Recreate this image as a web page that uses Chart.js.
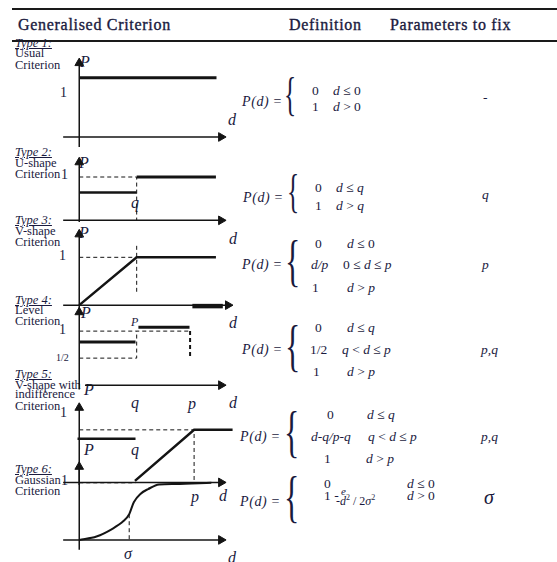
<!DOCTYPE html>
<html lang="en">
<head>
<meta charset="UTF-8">
<title>Generalised Criteria</title>
<script src="https://cdn.jsdelivr.net/npm/chart.js"></script>
<style>
  body { margin: 0; background: #fff; }
  #page { position: relative; width: 557px; height: 562px; overflow: hidden;
          font-family: 'Liberation Serif', 'DejaVu Serif', serif; color: #1a1a3e; }
  .rule { position: absolute; left: 12px; right: 0; height: 2px; background: #1a1a1a; }
  .t { position: absolute; white-space: nowrap; line-height: 1; }
  .hd { font-size: 16px; letter-spacing: 0.7px; -webkit-text-stroke: 0.35px #1a1a3e; }
  .lab { font-size: 12.5px; }
  .ty { font-style: italic; text-decoration: underline; }
  .gv { font-size: 16px; font-style: italic; }
  .num { font-size: 14px; }
  .f { font-size: 13.5px; }
  .pd { font-size: 14px; letter-spacing: 0.6px; }
  .brace { font-size: 46px; transform: scaleX(0.55); transform-origin: left top; font-weight: 100; }
  canvas { position: absolute; }
</style>
</head>
<body>
<div id="page">
  <div class="rule" style="top:8px"></div>
  <div class="rule" style="top:40px"></div>
  <div class="t hd" style="left:18px;top:17px">Generalised Criterion</div>
  <div class="t hd" style="left:289px;top:17px">Definition</div>
  <div class="t hd" style="left:390px;top:17px">Parameters to fix</div>

  <!-- left column names -->
  <div class="t lab ty" style="left:15px;top:37px">Type 1:</div>
  <div class="t lab" style="left:15px;top:47px">Usual</div>
  <div class="t lab" style="left:15px;top:59px">Criterion</div>

  <div class="t lab ty" style="left:15px;top:146px">Type 2:</div>
  <div class="t lab" style="left:15px;top:157px">U-shape</div>
  <div class="t lab" style="left:15px;top:168px">Criterion</div>

  <div class="t lab ty" style="left:15px;top:214px">Type 3:</div>
  <div class="t lab" style="left:15px;top:225px">V-shape</div>
  <div class="t lab" style="left:15px;top:236px">Criterion</div>

  <div class="t lab ty" style="left:15px;top:294px">Type 4:</div>
  <div class="t lab" style="left:15px;top:304px">Level</div>
  <div class="t lab" style="left:15px;top:315px">Criterion</div>

  <div class="t lab ty" style="left:15px;top:368px">Type 5:</div>
  <div class="t lab" style="left:15px;top:379px">V-shape with</div>
  <div class="t lab" style="left:15px;top:388px">indifference</div>
  <div class="t lab" style="left:15px;top:400px">Criterion</div>

  <div class="t lab ty" style="left:15px;top:463px">Type 6:</div>
  <div class="t lab" style="left:15px;top:474px">Gaussian</div>
  <div class="t lab" style="left:15px;top:485px">Criterion</div>

  <!-- graph labels -->
  <div class="t gv" style="left:80px;top:54px">P</div>
  <div class="t num" style="left:60px;top:86px">1</div>
  <div class="t gv" style="left:228px;top:112px">d</div>

  <div class="t gv" style="left:79px;top:155px">P</div>
  <div class="t num" style="left:61px;top:168px">1</div>
  <div class="t gv" style="left:131px;top:195px">q</div>
  <div class="t gv" style="left:229px;top:231px">d</div>

  <div class="t gv" style="left:79px;top:225px">P</div>
  <div class="t num" style="left:59px;top:249px">1</div>
  <div class="t gv" style="left:229px;top:315px">d</div>

  <div class="t gv" style="left:81px;top:305px">P</div>
  <div class="t num" style="left:59px;top:323px">1</div>
  <div class="t" style="left:56px;top:353px;font-size:10px">1/2</div>
  <div class="t gv" style="left:131px;top:316px;font-size:12px">P</div>
  <div class="t gv" style="left:131px;top:395px">q</div>
  <div class="t gv" style="left:188px;top:396px">p</div>
  <div class="t gv" style="left:229px;top:395px">d</div>

  <div class="t gv" style="left:84px;top:382px">P</div>
  <div class="t num" style="left:60px;top:406px">1</div>
  <div class="t gv" style="left:84px;top:442px">P</div>
  <div class="t gv" style="left:131px;top:442px">q</div>
  <div class="t gv" style="left:191px;top:489px">p</div>
  <div class="t gv" style="left:219px;top:488px">d</div>

  <div class="t num" style="left:61px;top:474px">1</div>
  <div class="t gv" style="left:124px;top:546px">&sigma;</div>
  <div class="t gv" style="left:228px;top:550px">d</div>

  <!-- definitions -->
  <div class="t pd" style="left:242px;top:95px"><i>P(d)</i> =</div>
  <div class="t brace" style="left:284px;top:72px">{</div>
  <div class="t f" style="left:312px;top:84px">0</div>
  <div class="t f" style="left:333px;top:84px"><i>d</i> &le; 0</div>
  <div class="t f" style="left:312px;top:100px">1</div>
  <div class="t f" style="left:333px;top:100px"><i>d</i> &gt; 0</div>
  <div class="t f" style="left:483px;top:91px">-</div>

  <div class="t pd" style="left:243px;top:191px"><i>P(d)</i> =</div>
  <div class="t brace" style="left:287px;top:169px">{</div>
  <div class="t f" style="left:315px;top:181px">0</div>
  <div class="t f" style="left:336px;top:181px"><i>d</i> &le; <i>q</i></div>
  <div class="t f" style="left:315px;top:199px">1</div>
  <div class="t f" style="left:336px;top:199px"><i>d</i> &gt; <i>q</i></div>
  <div class="t f" style="left:482px;top:188px"><i>q</i></div>

  <div class="t pd" style="left:242px;top:258px"><i>P(d)</i> =</div>
  <div class="t brace" style="left:285px;top:232px;font-size:58px">{</div>
  <div class="t f" style="left:315px;top:237px">0</div>
  <div class="t f" style="left:347px;top:237px"><i>d</i> &le; 0</div>
  <div class="t f" style="left:311px;top:258px"><i>d/p</i></div>
  <div class="t f" style="left:343px;top:258px">0 &le; <i>d</i> &le; <i>p</i></div>
  <div class="t f" style="left:312px;top:281px">1</div>
  <div class="t f" style="left:347px;top:281px"><i>d</i> &gt; <i>p</i></div>
  <div class="t f" style="left:482px;top:258px"><i>p</i></div>

  <div class="t pd" style="left:242px;top:343px"><i>P(d)</i> =</div>
  <div class="t brace" style="left:285px;top:317px;font-size:58px">{</div>
  <div class="t f" style="left:315px;top:321px">0</div>
  <div class="t f" style="left:347px;top:321px"><i>d</i> &le; <i>q</i></div>
  <div class="t f" style="left:310px;top:343px">1/2</div>
  <div class="t f" style="left:342px;top:343px"><i>q</i> &lt; <i>d</i> &le; <i>p</i></div>
  <div class="t f" style="left:313px;top:365px">1</div>
  <div class="t f" style="left:347px;top:365px"><i>d</i> &gt; <i>p</i></div>
  <div class="t f" style="left:481px;top:343px"><i>p,q</i></div>

  <div class="t pd" style="left:240px;top:430px"><i>P(d)</i> =</div>
  <div class="t brace" style="left:284px;top:403px;font-size:58px">{</div>
  <div class="t f" style="left:327px;top:408px">0</div>
  <div class="t f" style="left:367px;top:408px"><i>d</i> &le; <i>q</i></div>
  <div class="t f" style="left:311px;top:430px"><i>d-q/p-q</i></div>
  <div class="t f" style="left:368px;top:430px"><i>q</i> &lt; <i>d</i> &le; <i>p</i></div>
  <div class="t f" style="left:324px;top:452px">1</div>
  <div class="t f" style="left:366px;top:452px"><i>d</i> &gt; <i>p</i></div>
  <div class="t f" style="left:481px;top:430px"><i>p,q</i></div>

  <div class="t pd" style="left:240px;top:495px"><i>P(d)</i> =</div>
  <div class="t brace" style="left:284px;top:468px;font-size:58px">{</div>
  <div class="t f" style="left:324px;top:477px">0</div>
  <div class="t f" style="left:324px;top:489px">1 -</div>
  <div class="t f" style="left:341px;top:486px;font-size:11px"><i>e</i></div>
  <div class="t f" style="left:336px;top:494px;font-size:12px"><i>-d</i><sup style="font-size:8px">2</sup> / 2<i>&sigma;</i><sup style="font-size:8px">2</sup></div>
  <div class="t f" style="left:407px;top:477px"><i>d</i> &le; 0</div>
  <div class="t f" style="left:407px;top:489px"><i>d</i> &gt; 0</div>
  <div class="t" style="left:484px;top:487px;font-size:20px;font-style:italic">&sigma;</div>

  <canvas id="c1"></canvas>
  <canvas id="c2"></canvas>
  <canvas id="c3"></canvas>
  <canvas id="c4"></canvas>
  <canvas id="c5"></canvas>
  <canvas id="c6"></canvas>
</div>

<script>
  // values, in d units (q = 1, p = 2) and P units
  // Type 1 - usual
  const t1AxisD = [[-0.28, 0], [2.47, 0]];
  const t1AxisP = [[0, -0.17], [0, 1.25]];
  const t1Pref = [[0, 1], [2.39, 1]];
  // Type 2 - U-shape
  const t2AxisD = [[-0.28, 0], [2.47, 0]];
  const t2AxisP = [[0, -0.04], [0, 1.34]];
  const t2High = [[1, 1], [2.38, 1]];
  const t2Low = [[0, 0.64], [1, 0.64]];
  const t2Guide = [[0, 1], [1, 1], [1, 0]];
  // Type 3 - V-shape
  const t3AxisD = [[-0.28, 0], [2.59, 0]];
  const t3AxisP = [[0, -0.1], [0, 1.48]];
  const t3Pref = [[0, 0], [1, 1], [2.38, 1]];
  const t3GuideH = [[0, 1], [1, 1]];
  const t3GuideV = [[1, 1.24], [1, 0.28]];
  const t3Bar = [[1.97, -0.02], [2.5, -0.02]];
  // Type 4 - level
  const t4AxisD = [[0.1, 0], [2.47, 0]];
  const t4AxisP = [[0, -0.08], [0, 1.35]];
  const t4High = [[1.03, 1.07], [1.92, 1.07]];
  const t4Low = [[0, 0.8], [0.98, 0.8]];
  const t4GuideOne = [[0, 1], [1.93, 1]];
  const t4GuideP = [[1.93, 1], [1.93, 0.54]];
  const t4GuideHalf = [[0, 0.5], [1, 0.5], [1, 1]];
  // Type 5 - V-shape with indifference
  const t5AxisD = [[-0.28, 0], [2.47, 0]];
  const t5AxisP = [[0, -0.05], [0, 1.42]];
  const t5Pref = [[0.97, 0.03], [2, 1], [2.67, 1]];
  const t5Low = [[-0.03, 0.83], [0.98, 0.83]];
  const t5Guide = [[0, 1], [2, 1], [2, 0]];
  // Type 6 - gaussian
  const t6AxisD = [[-0.28, 0], [2.47, 0]];
  const t6AxisP = [[0, -0.17], [0, 1.28]];
  const t6Curve = [[0, 0], [0.3, 0.06], [0.57, 0.19], [0.77, 0.33], [0.87, 0.45], [0.95, 0.66],
                   [1.07, 0.81], [1.2, 0.89], [1.39, 0.97], [1.67, 0.98], [2.3, 1]];
  const t6GuideH = [[0, 1], [0.98, 1]];
  const t6GuideV = [[0.87, 0.45], [0.87, 0]];

  const ink = '#141414';
  const ox = 75, kx = 61;
  const pts = a => a.map(([x, y]) => ({ x, y }));

  const line = (d, w) => ({ data: pts(d), showLine: true, borderColor: ink, borderWidth: w,
                            pointRadius: 0, clip: false, tension: 0 });
  const dash = (d, w = 1) => ({ ...line(d, w), borderDash: [4, 3] });
  const axis = (d, rot) => ({ ...line(d, 1.5), pointStyle: 'triangle', pointRotation: rot,
                              pointRadius: c => c.dataIndex === d.length - 1 ? 5 : 0,
                              pointBackgroundColor: ink, pointBorderColor: ink, pointBorderWidth: 1 });
  const curve = d => ({ ...line(d, 2), tension: 0.4, cubicInterpolationMode: 'monotone' });

  function plot(id, oy, ky, top, height, sets) {
    const cv = document.getElementById(id);
    const left = 45, width = 205;
    cv.width = width; cv.height = height;
    cv.style.left = left + 'px'; cv.style.top = top + 'px';
    new Chart(cv, {
      type: 'scatter',
      data: { datasets: sets },
      options: {
        responsive: false, animation: false, events: [],
        layout: { padding: 0 },
        plugins: { legend: { display: false }, tooltip: { enabled: false } },
        scales: {
          x: { type: 'linear', display: false, min: (left - ox) / kx, max: (left + width - ox) / kx },
          y: { type: 'linear', display: false, min: (oy - top - height) / ky, max: (oy - top) / ky }
        }
      }
    });
  }

  plot('c1', 141, 66, 45, 115, [axis(t1AxisD, 90), axis(t1AxisP, 0), line(t1Pref, 3)]);
  plot('c2', 225, 50, 145, 90, [axis(t2AxisD, 90), axis(t2AxisP, 0), line(t2High, 3), line(t2Low, 2.5), dash(t2Guide)]);
  plot('c3', 310, 54, 215, 105, [axis(t3AxisD, 90), axis(t3AxisP, 0), line(t3Pref, 2.5),
                                 dash(t3GuideH), dash(t3GuideV), line(t3Bar, 4.5)]);
  plot('c4', 390, 61, 295, 105, [axis(t4AxisD, 90), axis(t4AxisP, 0), line(t4High, 3), line(t4Low, 3),
                                 dash(t4GuideOne), dash(t4GuideP, 2), dash(t4GuideHalf)]);
  plot('c5', 487, 59, 390, 110, [axis(t5AxisD, 90), axis(t5AxisP, 0), line(t5Pref, 2.5), line(t5Low, 2.5), dash(t5Guide)]);
  plot('c6', 544, 64, 450, 112, [axis(t6AxisD, 90), axis(t6AxisP, 0), curve(t6Curve), dash(t6GuideH), dash(t6GuideV)]);
</script>
</body>
</html>
